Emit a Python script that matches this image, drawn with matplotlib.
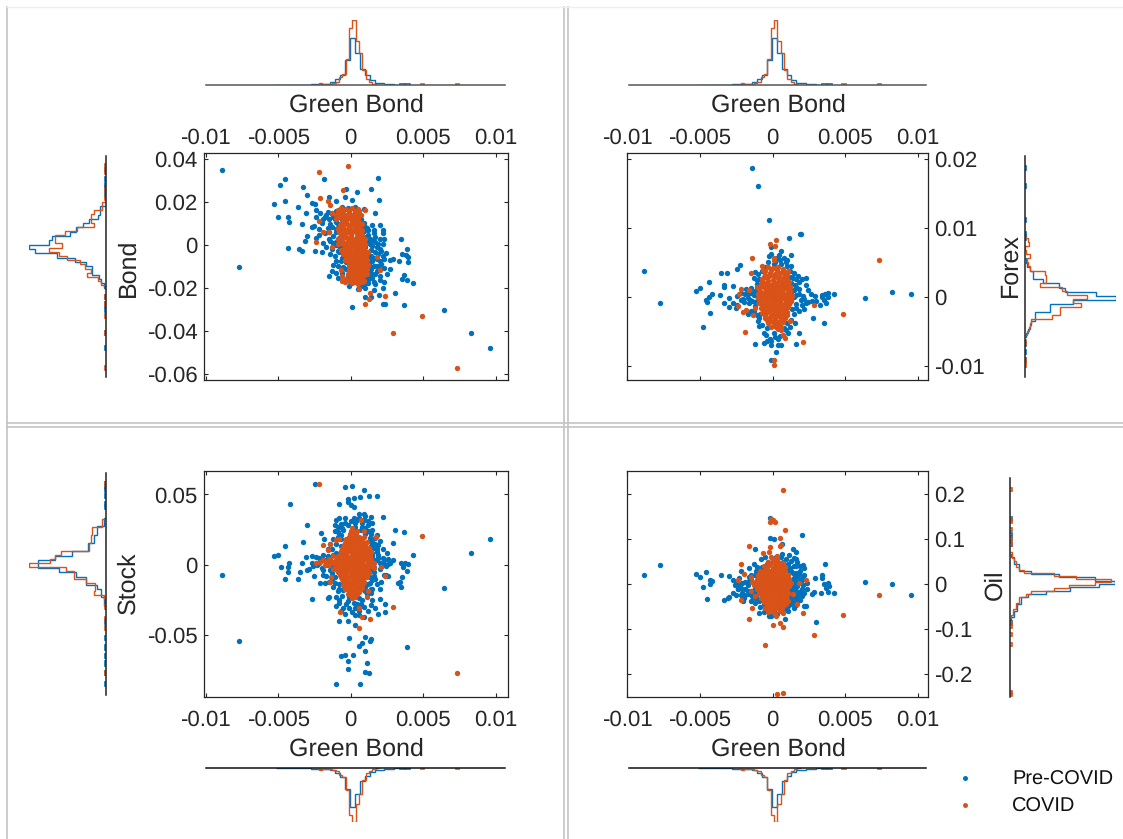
import numpy as np
import matplotlib
matplotlib.use("Agg")
import matplotlib.pyplot as plt
from matplotlib.lines import Line2D

plt.rcParams['font.family'] = ['Liberation Sans', 'DejaVu Sans']
plt.rcParams['text.hinting'] = 'none'

BLUE = '#0072BD'
ORANGE = '#D95319'
DARK = '#262626'
W, H = 1123, 839

# Scatter values: (green bond, market) in thousandths
bond_pre = [(-8.87,35),(-7.73,-10.2),(-4.56,30.7),(-4.85,27.9),(-3.3,27),(-1.85,30.7),(1.9,31.2),(-.3,26.4),(1.4,26.4),(.44,24.8),
(-.4,22.6),(-3.03,23.6),(-4.56,20.6),(-5.27,19.4),(-2.7,19.8),(-2.46,19.2),(-3.62,17.8),(1.92,21.1),(.07,21.1),(-1.48,22.3),
(-1.03,20.6),(-4.98,13.3),(-4.33,13),(-4.24,11),(-3.05,15.2),(-3.37,10.1),(-2.39,16.4),(-2.14,15.2),(1.7,15),(-2.64,8.7),
(-3,4.3),(-3.13,2),(-4.29,-1.1),(-3.55,-1.7),(-3.37,-2.5),(-2.46,-2.5),(-1.97,-2.9),(-2.39,3.3),(-1.9,.9),(3.47,3.1),
(3.89,-1.6),(3.52,-4),(3.84,-4.5),(3.97,-5.6),(3.35,-7.1),(2.9,-6.5),(3.97,-7.9),(3.65,-13.8),(3.57,-15.8),(3.9,-16.1),
(4.31,-17.7),(3.05,-22.3),(3.65,-27.6),(6.4,-30.1),(8.28,-40.9),(9.63,-47.9),(.07,-28.5),(2.25,-27.3),(2.36,-27.3),(1.43,-23.9),
(1,-24.2),(1.92,-23.1),(2.2,-20),(1.6,-21),(1.7,-18),(2.3,-17),(1,-20),(-.1,-19),(-1.5,-14.5),(-1.3,-12),
(-.9,-15),(-.6,-13),(-1.2,-9),(-1,-7.5),(-1.4,-4),(-1.7,-1),(-1.2,1),(-1.5,3),(-1.8,5.5),(-2.2,7.5),
(-1.6,8),(-2,10.5),(-1.4,10),(-2.4,13),(-1.8,13),(-1.2,13),(-1.6,15.5),(-1,16),(-.6,18),(-.2,17.5),
(.3,18),(.9,17),(-1,11),(-.8,9),(-1,6),(-.9,3),(-1,0),(-.8,-3),(-.6,-6),(-.5,-10),
(-.2,-14),(.1,-17),(1.2,-16),(1.5,-15),(2,-14.5),(2.5,-13.5),(1.4,-13),(1.8,-12),(2.3,-10.5),(2.7,-11),
(1.2,-11),(1.6,-9.5),(2.1,-8.5),(1.3,-8),(1.8,-6.5),(2.3,-6.5),(2.7,-6.7),(1.4,-5),(1.9,-4),(2.4,-3.5),
(2.1,-2.5),(1.4,-2),(1.8,-.8),(1.3,.5),(1.7,1.5),(2.2,.5),(2.3,3),(1.3,3),(1.7,4),(2.2,5.5),
(1.2,5),(1.6,7),(2.2,7),(2,9.3),(1,8.5),(1.5,9.5),(.9,10.5),(.9,-13),(1.1,-15),(.6,-18),
(.9,-18.5),(.5,-20.5),(1.3,-6),(1.1,-3.5),(1,-1),(1.1,1.5),(1,4),(.9,6.5),(1.1,8),(1.4,-10),
(-.3,-8),(-.4,-4),(-.6,-1),(-.6,2),(-.7,5),(-.7,8),(-.5,11),(-.3,13),(.3,14),(.7,12),
(.8,9),(1.2,7),(1.6,5.5),(2,3),(.9,3),(1.5,2.5),(1.9,.5),(1,.5),(1.5,-.5),(2,-1.5),
(1.2,-3),(1.7,-3),(2.2,-5),(1.6,-6),(1.1,-5.5),(1.5,-7.5),(2,-7.5),(1.1,-9),(1.8,-9.5),(1.4,-11),
(2,-11),(1.05,-12.5),(1.7,-13.5),(1.3,-14.5),(.7,-19),(1.2,-17.5),(1.6,-17),(2,-16),(-.1,-15.5),(-.9,14),
(-1.3,14.5),(-1.7,14),(-1.1,12),(-1.5,12),(-.7,12.5),(-.9,10),(-1.3,8.5),(-1,7.5),(-1.5,6),(-1.2,4.5),
(-.8,3.5),(-1.4,2),(-1,1.5),(-.8,-.5),(-1.3,-1.5),(-.9,-2.5),(-1.1,-5),(-.7,-7.5),(-.9,-9.5),(-.3,-11),
(-.6,-11),(-1,-13),(-2.2,5),(-2.5,9),(-1.9,12)]

bond_covid = [(-2.17,34),(-.2,36.7),(-.54,25.9),(-2.14,22),(-1.6,20.6),(-1.4,18.8),(.99,16.3),(4.93,-32.9),(2.9,-40.9),(7.36,-56.9),
(1,-27.3),(1.23,-25.1),(2.36,-23.6),(1.3,-22.3),(-2.2,11.3),(-1.9,6.4),(-2.39,1.7),(-1.28,-.6),(-1.5,6.4),(-.7,-11.5),
(-.6,-16.4),(1.8,-5.5),(2.04,-11.5),(.6,-20.5),(-1.3,15),(-1,14),(-.7,15),(-.4,14),(-.1,15),(.2,14.5),
(.5,15),(.7,14),(-.7,17.5),(-.3,17),(.1,17.5),(.5,17),(-.9,16.5),(-.1,12.5),(.2,12),(.5,12.5),
(-.4,10.5),(0,10),(.35,10.5),(-.5,8.5),(-.1,8),(.3,8.5),(.6,8),(-.6,6.5),(-.2,6),(.2,6.5),
(.55,6),(.8,5),(-.7,4.5),(-.35,4),(0,4.3),(.4,4),(.75,3),(-.6,2.5),(-.2,2),(.15,2.3),
(.5,2),(.9,1.3),(-.55,.5),(-.2,0),(.2,.5),(.55,0),(.9,-.7),(-.45,-1.5),(-.1,-2),(.3,-1.6),
(.65,-2),(1,-2.7),(-.35,-3.5),(.05,-4),(.4,-3.6),(.75,-4),(1.05,-4.8),(-.3,-5.5),(.1,-6),(.5,-5.6),
(.85,-6),(-.2,-7.5),(.15,-8),(.55,-7.6),(.9,-8),(1.1,-7),(-.15,-9.5),(.2,-10),(.6,-9.6),(.95,-10),
(-.1,-11.5),(.25,-12),(.65,-11.6),(1,-12),(-.2,-13.5),(.2,-14),(.6,-13.6),(.9,-14),(-.3,-15.5),(.3,-16),
(.7,-15.5),(.1,-17.5),(.5,-18),(.75,-17),(-1,12),(-.8,13),(-.55,12),(-.35,11.5),(.75,10),(.6,11),
(.8,7),(-.8,6),(-.9,3),(-.85,.5),(-.7,-2),(-.55,-4),(-.4,-7),(1.2,-9),(1.15,-11),(1.1,-13.5),
(.9,-16.5),(-.6,-14.5),(-.4,-17),(1,.5),(1.2,-3),(1,3),
(-.5,16),(-.1,16),(.3,15.8),(.6,16),(-.85,15),(-.6,13.3),(-.25,13.5),(.1,13.6),(.4,13.4),(-.3,11.3),
(.1,11.2),(.5,11),(-.75,9.5),(-.2,9.4),(.15,9.3),(.5,9.6),(-.35,7.3),(.05,7.2),(.45,7.3),(-.4,5.3),
(0,5.2),(.4,5.3),(.7,6.7),(-.5,3.3),(-.1,3.2),(.3,3.1),(.6,3.2),(-.35,1.2),(.05,1.3),(.35,1.1),
(.7,1),(-.3,-.8),(.05,-.8),(.45,-.8),(.75,-.9),(-.25,-2.8),(.15,-2.9),(.5,-2.8),(.85,-3),(-.15,-4.8),
(.25,-4.8),(.6,-4.8),(.9,-5),(-.1,-6.8),(.3,-6.9),(.7,-6.8),(1,-6),(0,-8.8),(.4,-8.8),(.75,-8.8),
(0,-10.7),(.4,-10.8),(.8,-10.8),(.05,-12.8),(.45,-12.8),(.8,-12.8),(.05,-15),(.45,-14.9),(.8,-15),(-.1,-16.7),
(.3,-17.3),(.6,-16.7),(-.6,11),(-.6,9.8),(-.85,7.5),(-.7,2.8)]

forex_pre = [(-1.43,18.6),(-1,16.1),(-.22,11.1),(-8.87,3.8),(-7.73,-.9),(6.35,-.2),(8.23,.7),(9.58,.5),(1.9,9.1),(1.97,9.1),
(1.16,8.6),(-4.8,-4.3),(-4.31,-2.3),(-5.27,.8),(-5,1.3),(-4.36,2.2),(-3.55,3.4),(-3.15,3.4),(-2.27,4.6),(-2.46,4),
(-4.6,-.4),(-4.5,-.7),(-4.19,.5),(-4.36,0),(-3.37,1.8),(-3.33,1.4),(-2.7,1.6),(-3.65,.3),(-3.37,-.8),(-3,-.2),
(-3,-1.5),(-2.7,-.9),(-2.46,-1.2),(-2.5,-1.6),(4.26,.4),(3.8,.6),(3.6,.4),(3.44,.3),(3.85,.05),(3.55,-.4),
(3.67,-.8),(3.25,-1.2),(3.44,0),(2.76,-3),(3.57,-3.7),(2.34,2.8),(2.3,1.7),(2.46,1),(2.34,-.9),(2.46,-.7),
(1.6,-6.8),(1.8,-5.2),(-1.18,-6.8),(-.62,-6.7),(-.12,-7),(.27,-7.9),(.6,-6.9),(1.1,-5.2),(1.55,-3.8),(-.25,5.9),
(.62,6.6),(.42,6.1),(1.3,6.1),(.8,5.6),(-.12,7.3),(-.1,-9.1),(-2.2,.6),(-2.05,-.3),(-1.9,.5),(-1.7,-.2),
(-1.8,1.2),(-1.5,1.3),(-1.4,-.6),(-1.6,-.9),(-1.3,.3),(-1.2,-1.3),(-1.1,1.9),(-1.3,2.8),(-1,3.3),(-.7,3.8),
(-1.2,3.6),(-1.5,-2),(-1.7,-2.4),(-1.1,-2.6),(-1,-3.4),(-.7,-4),(-.4,-4.5),(-.6,-5.2),(.1,-5.2),(.35,-6),
(-.2,-6),(.8,-4.5),(1,-3.8),(1.3,-3.3),(1.5,-2.5),(1.35,-1.7),(1.8,-2),(1.6,-1),(2,-1.2),(2.15,-.3),
(1.5,0),(1.8,.5),(2.1,.2),(2.65,.4),(2.9,.1),(3,-.6),(2.7,-.6),(1.5,1),(1.8,1.2),(1.55,1.8),
(1.85,2.2),(1.4,2.7),(1.75,3),(1.5,3.4),(1.2,3.7),(1,4.5),(.6,4.8),(.2,5),(-.3,5),(1.25,4.5),
(.9,5),(-.9,-3),(-1,-.3),(-1,1),(1.3,2),(1.65,1.5),(1.3,.7),(1.65,.3),(1.95,-.5),(1.3,-.6),
(1.65,-1.6),(2.2,-1.8),(2,2.6),(1.25,2.9),(1.6,2.6),(-1.2,.3),(-1.45,.6),(-1.7,.4),(-1.55,-.4),(-1.2,-.7),
(-1.95,-.7),(-2.2,-.5),(-2.45,.2),(-1.2,.9),(-1.05,2.4),(-.95,2.6),(-.85,-2.5),(-1.25,-2),(-.95,-4.2),(-.45,-5.5),
(.2,-5.8),(.55,-5.6),(.9,-4.8),(1.2,-4.4),(-.55,4.3),(.1,4.7),(.5,5.3),(1,5.3),(-.1,-6.3),(.4,-7),
(-.4,-6.3),(-.1,6.2),(.3,5.7)]

forex_covid = [(.27,8.3),(-.15,7.6),(.15,7.4),(-1.38,5.6),(.07,5.7),(.12,5.4),(7.32,5.4),(4.88,-2.4),(2.83,-1.1),(2.07,-6.5),
(-1.92,-5.1),(.12,-9.1),(.12,-9.9),(-.74,4.5),(-1.48,3.4),(-2.4,-1.3),(-2.05,-2.1),(-1.85,-1.9),(-1.2,-1.6),(-1.35,-2.6),
(-2.33,.5),(-1.6,1),(-2.2,1.2),(.62,-4.8),(.74,-5.5),(.86,-5.9),(-.65,3.9),(-.3,4.3),(.05,4.2),(.35,4.4),
(.7,4.1),(1.05,3.8),(-.55,3.2),(-.2,3.5),(.15,3.3),(.5,3.5),(.85,3.2),(-.7,2.6),(-.35,2.7),(0,2.5),
(.35,2.7),(.7,2.5),(1,2.6),(-.8,1.9),(-.45,2),(-.1,1.8),(.25,2),(.6,1.8),(.95,1.9),(1.2,1.5),
(-.9,1.2),(-.55,1.3),(-.2,1.1),(.15,1.3),(.5,1.1),(.85,1.3),(1.2,.9),(-1,.5),(-.65,.6),(-.3,.4),
(.05,.6),(.4,.4),(.75,.6),(1.1,.4),(1.35,.2),(-1,-.2),(-.7,-.1),(-.35,-.3),(0,-.1),(.35,-.3),
(.7,-.1),(1.05,-.3),(1.3,-.5),(-.9,-.9),(-.55,-.8),(-.2,-1),(.15,-.8),(.5,-1),(.85,-.8),(1.15,-1),
(-.8,-1.6),(-.45,-1.5),(-.1,-1.7),(.25,-1.5),(.6,-1.7),(.95,-1.5),(-.7,-2.3),(-.35,-2.2),(0,-2.4),(.35,-2.2),
(.7,-2.4),(1,-2.2),(-.55,-3),(-.2,-2.9),(.15,-3.1),(.5,-2.9),(.85,-3.1),(-.3,-3.7),(.05,-3.6),(.4,-3.8),
(.7,-3.6),(-.1,-4.3),(.25,-4.4),(.5,-4.2),(1.2,-3.5),(-1.1,1.5),
(-.5,3.7),(-.1,3.9),(.3,3.9),(.7,3.6),(1,3.2),(-.6,2.9),(-.25,3),(.1,3),(.45,2.9),(.8,2.9),
(1.15,2.2),(-.7,2.3),(-.3,2.3),(.1,2.2),(.45,2.3),(.8,2.2),(-.75,1.6),(-.4,1.6),(0,1.5),(.4,1.5),
(.75,1.6),(1.1,1.6),(-.85,.9),(-.45,.9),(-.1,.85),(.3,.9),(.65,.85),(1.05,.85),(-.85,.15),(-.5,.2),
(-.15,.15),(.2,.15),(.55,.15),(.9,.15),(1.25,.1),(-.85,-.55),(-.5,-.5),(-.15,-.6),(.2,-.55),(.55,-.55),
(.9,-.5),(1.2,-.7),(-.7,-1.2),(-.3,-1.3),(.05,-1.25),(.4,-1.3),(.75,-1.25),(1.1,-1.4),(-.6,-1.95),(-.2,-1.95),
(.15,-1.9),(.5,-1.95),(.85,-1.9),(-.5,-2.65),(-.1,-2.65),(.3,-2.6),(.65,-2.65),(1,-2.6),(-.4,-3.3),(-.1,-3.4),
(.25,-3.4),(.6,-3.3),(.15,-4),(.4,-4.6),(.6,-4.4)]

stock_pre = [(-8.87,-7.1),(-7.73,-54.4),(9.63,18.5),(8.28,8.1),(6.4,-16.4),(3.9,-58.9),(-4.16,43.2),(-2.46,57.5),(-.39,55.3),(.07,56.3),
(.91,53.4),(1.8,49.2),(1.28,48.9),(.67,48.2),(.2,47.7),(-.17,47),(-.17,44.5),(0,42.8),(.25,40.9),(-.79,43.2),
(2.24,33.7),(-3,28.3),(-2.02,22.6),(-1.87,18.5),(-3.3,15.9),(-4.56,13.3),(3.05,24.5),(3.65,23),(2.9,15.2),(4.31,6.7),
(-5.27,5.9),(-4.98,7.1),(-4.24,1),(-4.29,-1.5),(-4.8,-1.7),(-4.29,-5),(-4.56,-10.2),(-3.62,-10.2),(-3.37,.9),(-3.5,-5),
(-3.05,5.7),(-2.7,6.2),(-2.7,-24.7),(-1.53,-22.8),(-1.03,-22.8),(-1.58,-23.5),(-.79,-27),(-1.03,-29.2),(-.79,-40.4),(-.22,-40.4),
(.27,-43),(-.15,-52.3),(1,-51.8),(1.43,-53),(1.3,-54),(.57,-58),(.76,-56),(1,-61.3),(-.67,-64.8),(-.42,-64.4),
(.15,-64.4),(-.22,-68.4),(-.22,-73.9),(1.1,-70.3),(.96,-76.2),(1.28,-77.2),(-1,-84.8),(.64,-84.8),(3.5,1),(3.75,1),
(3.94,.5),(3.62,-1.5),(3.87,-4.3),(3.55,-9),(3.37,-12),(3.45,-16.2),(3.25,-13.3),(2.35,-34),(1.85,-35),(2.36,-27.8),
(2,-24.7),(1.5,-25.4),(1.67,-31),(.9,-37),(.3,-36),(-.4,-35),(-.7,-33),(.6,-33),(1.2,-33),(1.4,-29),
(.4,-28),(-.3,-28),(.8,-25),(-.1,-23),(1.1,-21),(2,-17),(1.5,-17),(2.1,-12),(2.6,-8),(2.3,-7),
(1.7,-10),(1.3,-13),(1,-16),(1.6,-5),(2,-3),(2.4,-1),(2.9,3),(2.6,4),(2.2,5),(1.8,3),
(1.5,1),(2.5,8),(2.2,11),(1.8,9),(1.5,6),(1.9,14),(1.6,12),(2,17),(1.5,16),(1.7,19),
(1.3,19),(1,22),(1.5,25),(1.2,28),(.8,30),(1.4,34),(.9,36),(.6,33),(.2,33),(-.4,33),
(-.8,33),(-1,32),(-.7,29),(-1.1,24),(-.5,25),(-.9,20),(-1.4,15),(-1.6,11),(-1.2,7),(-1.9,7),
(-2.2,5),(-1.7,3),(-2.2,1),(-2.6,-1),(-3,-4),(-2.5,-8),(-1.9,-7),(-2.1,-13),(-1.8,-13),(-1.3,-10),
(-1.2,-16),(-.9,-19),(-.5,-18),(-1.4,-4),(-1.1,-1),(-.7,18),(.3,30),(.7,25),(1.2,11),(1.1,-7),
(2.7,1.5),(2.3,.5),(2,1.5),(2.6,.5),(1.9,7),(-2.4,5.5),(2.4,-7),(.9,-30),(1.4,22),(1.8,21),
(1.3,17),(1.7,15),(1.4,13),(1.8,11.5),(1.5,8),(1.9,5),(2.3,3),(1.7,3),(1.4,3.5),(2.1,-1),
(1.6,-1.5),(1.4,-3),(1.6,-8),(1.3,-9),(1.5,-11),(1.8,-14),(1.2,-14),(1.4,-17),(1,-19),(1.4,-20),
(.6,-24),(.2,-27),(.7,-28),(-.2,-26),(-.6,-22),(-.8,-25),(-.1,-31),(.3,-31),(-.5,-31),(.1,-34),
(.6,-36),(1,26),(1.2,24),(.8,27),(.3,27),(-.2,28),(-.6,26),(-.9,27),(-1.1,28),(-.4,30),
(0,31),(.4,32),(.9,32),(1.2,31),(1,35),(.6,36),(1.5,30),(-.9,23),(-.7,21),(-1.2,18),
(-1,15),(-.7,13),(-1.3,11),(-1,8),(-1.6,6),(-1.4,3),(-1.7,0),(-2,-2),(-1.4,-1),(-1.9,-4),
(-1.3,-6),(-1.7,-8),(-1.1,-9),(-1.5,-12),(-1.1,-13),(-.8,-14),(-.8,-17),(-2.3,-.5),(-2.7,1),(-2.9,-3)]

stock_covid = [(-2.19,57.2),(4.93,20.7),(7.36,-77.2),(2.9,-30.2),(.57,-45.1),(1.33,-38.5),(.76,-37),(-.71,-33.7),(.57,-31.1),(.69,31.6),
(-1.9,13.8),(-1,17.6),(-.79,18),(1.75,19.5),(2.09,-1.7),(2.36,-7.8),(-1.4,-12.1),(-1.33,-8.5),(-2.39,1),(-2.14,2),
(-1.9,3.3),(-1.58,10.5),(-1.4,14.5),(1.1,-23),(1.2,-19),(.1,26),(.05,24),(.35,21),(-.05,21.5),(.9,24),
(-.3,18.5),(0,18),(.35,18),(.65,18),(.9,20),(-.4,15.5),(-.1,15),(.25,15.5),(.55,15),(.85,15.5),
(1.1,16),(-.55,12.5),(-.25,12),(.1,12.5),(.4,12),(.7,12.5),(1,12),(1.25,12),(-.7,9.5),(-.4,9),
(-.1,9.5),(.25,9),(.55,9.5),(.85,9),(1.15,9.5),(-.85,6.5),(-.55,6),(-.25,6.5),(.1,6),(.4,6.5),
(.7,6),(1,6.5),(1.3,6),(-1,3.5),(-.7,3),(-.4,3.5),(-.05,3),(.25,3.5),(.55,3),(.85,3.5),
(1.15,3),(1.4,3),(-1.1,.5),(-.8,0),(-.5,.5),(-.2,0),(.15,.5),(.45,0),(.75,.5),(1.05,0),
(1.35,.5),(-1,-2.5),(-.7,-3),(-.4,-2.5),(-.1,-3),(.25,-2.5),(.55,-3),(.85,-2.5),(1.15,-3),(-.85,-5.5),
(-.55,-6),(-.25,-5.5),(.1,-6),(.4,-5.5),(.7,-6),(1,-5.5),(1.25,-6),(-.7,-8.5),(-.4,-9),(-.1,-8.5),
(.25,-9),(.55,-8.5),(.85,-9),(1.1,-8.5),(-.55,-11.5),(-.25,-12),(.1,-11.5),(.4,-12),(.7,-11.5),(.95,-12),
(-.5,-14.5),(-.15,-15),(.2,-14.5),(.5,-15),(.8,-14.5),(-.4,-17.5),(0,-18),(.35,-17.5),(.65,-18),(-.2,-20.5),
(.15,-21),(.45,-20.5),(.1,-24),(-1.7,2),(-1.5,4),(-1.3,2),(-1.5,0),(-1.8,-.5),(-1.2,-3),(1.6,1),
(1.6,-2),(-1.2,6),(1.4,9),
(.15,23),(.4,24),(-.15,20),(.2,20),(.6,20),(-.25,17),(.1,17),(.5,16.8),(.8,17),(-.45,14),
(-.1,13.8),(.25,14),(.6,13.8),(1,14),(-.6,11),(-.2,10.8),(.15,11),(.55,10.8),(.9,11),(-.7,8),
(-.3,7.8),(.1,8),(.45,7.8),(.8,8),(1.1,8),(-.85,5),(-.4,4.8),(-.1,5),(.3,4.8),(.65,5),
(1,4.8),(1.3,4.6),(-.95,2),(-.55,1.8),(-.2,2),(.1,1.8),(.45,2),(.8,1.8),(1.2,1.6),(-1,-1),
(-.6,-1.2),(-.3,-1),(.05,-1.2),(.4,-1),(.7,-1.2),(1.1,-1.4),(1.4,-1),(-.95,-4),(-.55,-4.2),(-.2,-4),
(.15,-4.2),(.5,-4),(.8,-4.2),(1.2,-4.2),(-.75,-7),(-.4,-7.2),(.05,-7),(.35,-7.2),(.7,-7),(1.05,-7),
(-.6,-10),(-.25,-10.2),(.15,-10),(.5,-10.2),(.85,-10),(-.4,-13),(0,-13),(.35,-13),(.75,-13),(-.3,-16),
(.05,-16),(.45,-16),(.75,-16.5),(-.1,-19),(.3,-19),(.6,-19.5),(0,-22.5),(.3,-22.8)]

oil_pre = [(-8.87,20.7),(-7.73,43),(6.35,5.2),(8.23,0),(9.58,-23.7),(3.6,43.7),(2.02,108.9),(3.03,-85.2),(-.17,146),(-.17,102),
(.07,100),(-1.18,78.5),(1.4,78.5),(1.6,72),(.64,88.9),(-5.27,21.5),(-5,16.3),(-4.6,26.7),(-3.55,20.7),(-3.03,17),
(-4.8,-7.4),(-4.31,8.9),(-4.19,6.7),(-4.31,-.7),(-4.53,-33.3),(-3.33,-36.3),(-3.08,-31.9),(-3,-28),(4.26,-20.7),(3.82,3),
(3.87,-3.7),(3.57,0),(3.44,20),(3.44,12.6),(3.69,-9.6),(3.82,-18.5),(3.32,-20.7),(2.83,-17),(2.71,-23),(2.9,13.3),
(2.2,-48.9),(2.32,-48.9),(1.48,-54),(.86,-77.8),(-.25,-72),(-.96,-65.2),(2.09,42),(2.2,35),(1.6,55),(1.48,57),
(1.11,64),(.62,61),(-.5,60),(-.8,55),(-1.3,45),(-1.6,36),(-2.2,30),(-2.7,8),(-2.6,-3),(-2.4,-12),
(-2.7,-20),(-2.2,-25),(-2,-32),(-1.5,-15),(-1.9,-10),(-1.7,-2),(-1.5,10),(-1.2,20),(-1.6,15),(-.9,30),
(-1.1,-30),(-.9,-38),(-.6,-45),(-.3,-55),(.1,-60),(.6,-55),(1.1,-48),(1.5,-40),(1.9,-35),(1.3,-30),
(1.8,-25),(2.2,-20),(2.4,-12),(2,-10),(1.6,-15),(1.3,-20),(1.3,-10),(1.7,-5),(2.1,-2),(2.4,3),(2,8),
(1.6,5),(1.3,0),(1.3,10),(1.7,17),(2.2,20),(1.9,28),(1.4,25),(1.2,35),(1.6,40),(1.1,45),(.7,50),
(.2,52),(-.3,50),(1.5,-5),(1.55,-25),(1.75,-32),(1.45,-33),(1.2,-38),(1.6,-18),(1.95,-15),(1.45,13),
(-1.1,8),(-1.2,-8),(-1.1,-20),(-1.3,3),(-2.1,3),(-2.3,14),(-2.2,-8),(-1.6,-22),(.9,-42),(1.05,32),
(1.2,-2),(1.5,3),(1.8,8),(2,14),(1.6,25),(1.3,30),(1.85,22),(1.3,-15),(1.55,-12),(1.85,-20),
(2.05,-26),(1.25,-25),(1.5,-31),(1.7,-40),(1.3,-44),(1.6,-47),(.9,-55),(1.05,-60),(.3,-66),(-.1,-70),
(-.6,-62),(-.85,-50),(-1.2,-42),(-1.45,-38),(-1.2,-30),(-1.3,-15),(-1.7,-15),(-1.2,-3),(-1.6,6),(-1.9,5),
(-2.4,-10),(-2.55,-25),(-2.1,-20),(-1.9,-25),(-1.4,-27),(-2.05,-38),(-1.5,20),(-1.15,28),(-.75,38),(-.35,45),
(.25,60),(.65,66),(.9,55),(1.3,52),(1.7,48),(1.45,40),(1.9,40),(-2.55,2),(-2.35,-2),(-1.1,37)]

oil_covid = [(.71,209.6),(-.1,144.4),(-.2,137),(.17,138.5),(.02,142),(.84,120.7),(.54,101.5),(-1.63,84.4),(-.2,83),(.62,86.7),
(.49,84),(-.67,70),(-.25,72),(-2.2,43.7),(7.32,-23.7),(4.88,-68.1),(2.86,-113.3),(-.52,-134.8),(.71,-241.5),(.32,-245.2),
(.02,-90.4),(.54,-87.4),(.74,-94.8),(-1.63,-77),(2.07,-65.2),(-1.38,-53.3),(-2.14,-35.6),(-2.39,8.9),(-1.95,21.5),(-1.23,-27),
(1.72,-45.2),(-.5,-54),(2.34,8.9),(1.8,1.5),(-.12,-61),(.25,-72),(.74,-65),(.2,-66),(-.3,-62),(.5,-60),
(-.1,60),(.3,62),(-.3,50),(.1,52),(.4,50),(.75,46),(-.6,40),(-.25,42),(.15,40),(.5,42),
(.85,38),(-.85,30),(-.5,32),(-.15,30),(.2,32),(.55,30),(.85,30),(-1,20),(-.65,22),(-.3,20),
(.05,22),(.4,20),(.75,22),(1.05,20),(-1.1,10),(-.75,12),(-.4,10),(-.05,12),(.3,10),(.65,12),
(1,10),(-1.1,0),(-.75,2),(-.4,0),(-.05,2),(.3,0),(.65,2),(1,0),(1.25,3),(-1.05,-10),
(-.7,-8),(-.35,-10),(0,-8),(.35,-10),(.7,-8),(1,-10),(-.95,-20),(-.6,-18),(-.25,-20),(.1,-18),
(.45,-20),(.8,-18),(1.1,-20),(-.8,-30),(-.45,-28),(-.1,-30),(.25,-28),(.6,-30),(.95,-28),(-.6,-40),
(-.25,-38),(.1,-40),(.45,-38),(.8,-40),(1.05,-38),(-.4,-50),(0,-48),(.35,-50),(.7,-48),(-1.5,15),
(-1.3,-3),(-1.4,5),(-1.5,-15),(1.4,-22),
(0,56),(.3,55),(-.1,47),(.25,46),(.6,47),(-.4,37),(0,36),(.35,36),(.7,35),(-.7,26),
(-.3,26),(.05,26),(.4,26),(.75,26),(-.85,15),(-.5,16),(-.15,16),(.2,16),(.55,16),(.9,15),
(-.9,6),(-.55,6),(-.2,6),(.15,6),(.5,6),(.85,6),(1.15,12),(-.95,-4),(-.55,-4),(-.2,-4),
(.15,-4),(.5,-4),(.85,-4),(1.15,-5),(-.85,-14),(-.5,-14),(-.15,-14),(.2,-14),(.55,-14),(.85,-14),
(-.7,-24),(-.35,-24),(0,-24),(.35,-24),(.7,-24),(1,-24),(-.55,-34),(-.2,-34),(.15,-34),(.5,-34),
(.85,-34),(-.4,-44),(-.05,-44),(.3,-44),(.6,-44),(.9,-44),(.1,-55),(.4,-54),(.65,-54),(-.15,-53)]

# Marginal histogram heights (bottom to top / left to right, relative to peak)
gb_pre_start, gb_pre_width = -0.00515, 0.00034
gb_pre_h = [.005,.005,.005,.005,.005,.005,.005,.01,.01,.015,.02,.04,.09,.16,.38,.72,.49,.24,.15,.08,.035,.035,.01,.01,.005,.005,.005]
gb_cov_start, gb_cov_width = -0.00219, 0.00023
gb_cov_h = [.03,.02,.01,.02,.03,.05,.13,.17,.40,.87,1.0,.67,.49,.23,.10,.05,.01,.005]
gb_pre_tail = [.0036,.0039]
gb_cov_tail = [.00493,.00736]
bond_pre_hs, bond_pre_hw = -0.0197, 0.002
bond_pre_h = [.02,.06,.09,.18,.18,.25,.4,.63,.91,1.0,.74,.70,.46,.38,.29,.22,.1,.07,.07]
bond_cov_hs, bond_cov_hw = -0.0205, 0.00194
bond_cov_h = [.01,.06,.1,.245,.19,.26,.33,.5,.61,.73,.56,.65,.66,.53,.375,.15,.19,.19,.15,.05,.05]
bond_pre_tail = [.035,.0307,.0279,.0264,.0235,-.0239,-.0276,-.0301,-.0409,-.0479]
bond_cov_tail = [.0367,.034,.0259,.022,-.0241,-.0273,-.0329,-.0409,-.0569]
forex_pre_hs, forex_pre_hw = -0.00583, 0.0006
forex_pre_h = [.01,.03,.05,.07,.11,.11,.28,.28,.53,1.0,.78,.44,.37,.2,.09,.09,.05,.02,.01]
forex_cov_hs, forex_cov_hw = -0.00545, 0.00058
forex_cov_h = [.02,.04,.055,.07,.3,.385,.385,.61,.53,.685,.46,.41,.17,.23,.23,.22,.055,.03,.02,.06,.01,0,.04,.03]
forex_pre_tail = [.0186,.0161,.0111,.0091,.0086,-.0068,-.0079,-.0091]
forex_cov_tail = [-.0065,-.0091,-.0099]
stock_pre_hs, stock_pre_hw = -0.0292, 0.00297
stock_pre_h = [.02,.023,.056,.056,.116,.256,.256,.386,.6,.88,.88,.65,.44,.23,.23,.15,.15,.107,.107,.02,.02]
stock_cov_hs, stock_cov_hw = -0.0275, 0.00285
stock_cov_h = [.01,.023,.153,.14,.14,.256,.405,.405,.51,1.0,.72,.65,.58,.21,.21,.186,.186,.17,.17,.047,.047]
stock_pre_tail = [.0575,.0553,.0534,.0489,.0432,.0409,-.0404,-.0523,-.0589,-.0648,-.0703,-.0772,-.0848]
stock_cov_tail = [.0572,-.0302,-.0385,-.0451,-.0772]
oil_pre_hs, oil_pre_hw = -0.0815, 0.0074
oil_pre_h = [.01,.03,.03,.065,.065,.1,.1,.17,.34,.57,.85,1.0,.81,.46,.2,.08,.08,.03,.03,.01]
oil_cov_hs, oil_cov_hw = -0.0763, 0.00667
oil_cov_h = [.01,.025,.025,.05,.05,.08,.08,.15,.2,.42,.56,.81,.966,.626,.42,.13,.08,.05,.05,.03,.015,.015]
oil_pre_tail = [.146,.1089,.102,.0889,-.0852]
oil_cov_tail = [.2096,.1444,.1385,.1207,.1015,.0867,-.0874,-.0948,-.1133,-.1348,-.2415,-.2452]

x_ticks = [-0.01, -0.005, 0, 0.005, 0.01]
x_labels = ['-0.01', '-0.005', '0', '0.005', '0.01']
panel_names = ['Bond', 'Forex', 'Stock', 'Oil']
y_ticks = [[0.04, 0.02, 0, -0.02, -0.04, -0.06], [0.02, 0.01, 0, -0.01], [0.05, 0, -0.05], [0.2, 0.1, 0, -0.1, -0.2]]
y_labels = [['0.04', '0.02', '0', '-0.02', '-0.04', '-0.06'], ['0.02', '0.01', '0', '-0.01'], ['0.05', '0', '-0.05'], ['0.2', '0.1', '0', '-0.1', '-0.2']]

fig = plt.figure(figsize=(W / 100, H / 100), dpi=100, facecolor='white')


def box(l, t, r, b, **kw):
    return fig.add_axes([l / W, 1 - b / H, (r - l) / W, (b - t) / H], facecolor='none', **kw)


def edges(start, width, heights):
    return start + width * np.arange(len(heights) + 1)


def scatter(ax, pre, cov):
    p = np.array(pre) * 1e-3
    c = np.array(cov) * 1e-3
    ax.scatter(p[:, 0], p[:, 1], s=15, color=BLUE, linewidths=0, zorder=2)
    ax.scatter(c[:, 0], c[:, 1], s=15, color=ORANGE, linewidths=0, zorder=3)


def main_axes(l, t, r, b, x0, y0, sy, top, right, idx):
    ax = box(l, t, r, b)
    ax.set_xlim((l - x0) / 14500, (r - x0) / 14500)
    ax.set_ylim((y0 - b) / sy, (y0 - t) / sy)
    ax.set_xticks(x_ticks, x_labels)
    ax.set_yticks(y_ticks[idx], y_labels[idx])
    ax.tick_params(direction='in', length=3, width=0.8, color=DARK, labelcolor=DARK, labelsize=16, top=True, right=True,
                   labeltop=top, labelbottom=not top, labelleft=not right, labelright=right, pad=3)
    ax.tick_params(axis='x', pad=3 if top else 9.5)
    ax.tick_params(axis='y', pad=4.5)
    for s in ax.spines.values():
        s.set_color(DARK)
        s.set_linewidth(0.9)
    return ax


def hist_common(ax, side, color='#222222'):
    for k, s in ax.spines.items():
        s.set_visible(k == side)
        s.set_color(color)
        s.set_linewidth(1.1)
    ax.set_xticks([])
    ax.set_yticks([])


def tails(ax, values, width, color, horizontal):
    for v in values:
        ax.stairs([.012], [v - width / 2, v + width / 2], color=color, lw=1.2, baseline=0,
                  orientation='horizontal' if horizontal else 'vertical')


def gb_hist(l, r, t, b, x0, flip):
    ax = box(l, t, r, b)
    ax.set_xlim((l - x0) / 14500, (r - x0) / 14500)
    ax.set_ylim(1, 0) if flip else ax.set_ylim(0, 1)
    ax.stairs(gb_pre_h, edges(gb_pre_start, gb_pre_width, gb_pre_h), color=BLUE, lw=1, baseline=0)
    tails(ax, gb_pre_tail, gb_pre_width, BLUE, False)
    ax.stairs(gb_cov_h, edges(gb_cov_start, gb_cov_width, gb_cov_h), color=ORANGE, lw=1, baseline=0)
    tails(ax, gb_cov_tail, gb_cov_width, ORANGE, False)
    hist_common(ax, 'top' if flip else 'bottom', '#111111' if flip else '#555555')


def y_hist(l, r, t, b, y0, sy, side, ph, pe, ch, ce, pt, ct):
    ax = box(l, t, r, b)
    ax.set_ylim((y0 - b) / sy, (y0 - t) / sy)
    ax.set_xlim(1, 0) if side == 'right' else ax.set_xlim(0, 1)
    ax.stairs(ph, pe, orientation='horizontal', color=BLUE, lw=1, baseline=0)
    tails(ax, pt, pe[1] - pe[0], BLUE, True)
    ax.stairs(ch, ce, orientation='horizontal', color=ORANGE, lw=1, baseline=0)
    tails(ax, ct, ce[1] - ce[0], ORANGE, True)
    hist_common(ax, side)


# Panels
a = main_axes(204, 153, 508, 380, 350.7, 245.3, 2150, True, False, 0)
scatter(a, bond_pre, bond_covid)
a = main_axes(626.5, 153, 928, 380, 772.5, 297, 6917, True, True, 1)
scatter(a, forex_pre, forex_covid)
a = main_axes(204, 471, 508, 697, 350.7, 564.7, 1405, False, False, 2)
scatter(a, stock_pre, stock_covid)
a = main_axes(626.5, 471, 928, 697, 772.5, 584, 450, False, True, 3)
scatter(a, oil_pre, oil_covid)

gb_hist(206.4, 505, 20, 85, 350.7, False)
gb_hist(629, 926, 20, 85, 772.5, False)
gb_hist(206.4, 505, 768, 822, 350.7, True)
gb_hist(629, 926, 768, 822, 772.5, True)

y_hist(28.5, 105.5, 156, 377, 245.3, 2150, 'right', bond_pre_h, edges(bond_pre_hs, bond_pre_hw, bond_pre_h), bond_cov_h, edges(bond_cov_hs, bond_cov_hw, bond_cov_h), bond_pre_tail, bond_cov_tail)
y_hist(1025, 1116, 156, 377, 297, 6917, 'left', forex_pre_h, edges(forex_pre_hs, forex_pre_hw, forex_pre_h), forex_cov_h, edges(forex_cov_hs, forex_cov_hw, forex_cov_h), forex_pre_tail, forex_cov_tail)
y_hist(28.5, 105.5, 473, 695, 564.7, 1405, 'right', stock_pre_h, edges(stock_pre_hs, stock_pre_hw, stock_pre_h), stock_cov_h, edges(stock_cov_hs, stock_cov_hw, stock_cov_h), stock_pre_tail, stock_cov_tail)
y_hist(1010.4, 1115, 478, 697, 584, 450, 'left', oil_pre_h, edges(oil_pre_hs, oil_pre_hw, oil_pre_h), oil_cov_h, edges(oil_cov_hs, oil_cov_hw, oil_cov_h), oil_pre_tail, oil_cov_tail)


def ftext(x, y, s, **kw):
    fig.text(x / W, 1 - y / H, s, ha='center', va='center', color=DARK, fontsize=18, **kw)


for cx in (356, 778):
    ftext(cx, 105, 'Green Bond')
    ftext(cx, 749, 'Green Bond')
ftext(128, 268, panel_names[0], rotation=90)
ftext(1010, 265, panel_names[1], rotation=90)
ftext(128, 583, panel_names[2], rotation=90)
ftext(995, 585, panel_names[3], rotation=90)

# Panel dividers
for x in (7, 564, 568):
    fig.add_artist(Line2D([x / W, x / W], [0, 1 - 7 / H], color='#c4c4c4', lw=1.2))
for y in (423, 427):
    fig.add_artist(Line2D([7 / W, 1], [1 - y / H, 1 - y / H], color='#c4c4c4', lw=1.2))
fig.add_artist(Line2D([7 / W, 1], [1 - 7 / H, 1 - 7 / H], color='#eeeeee', lw=1))

# Legend
handles = [Line2D([], [], ls='', marker='o', ms=3.6, mew=0, color=BLUE), Line2D([], [], ls='', marker='o', ms=3.6, mew=0, color=ORANGE)]
fig.legend(handles, ['Pre-COVID', 'COVID'], loc='center left', bbox_to_anchor=(945 / W, 1 - 793 / H), frameon=False,
           fontsize=14.4, labelcolor='#111111', handletextpad=1.35, labelspacing=0.42, borderpad=0, borderaxespad=0)

fig.savefig('out.png', dpi=100, facecolor='white')
